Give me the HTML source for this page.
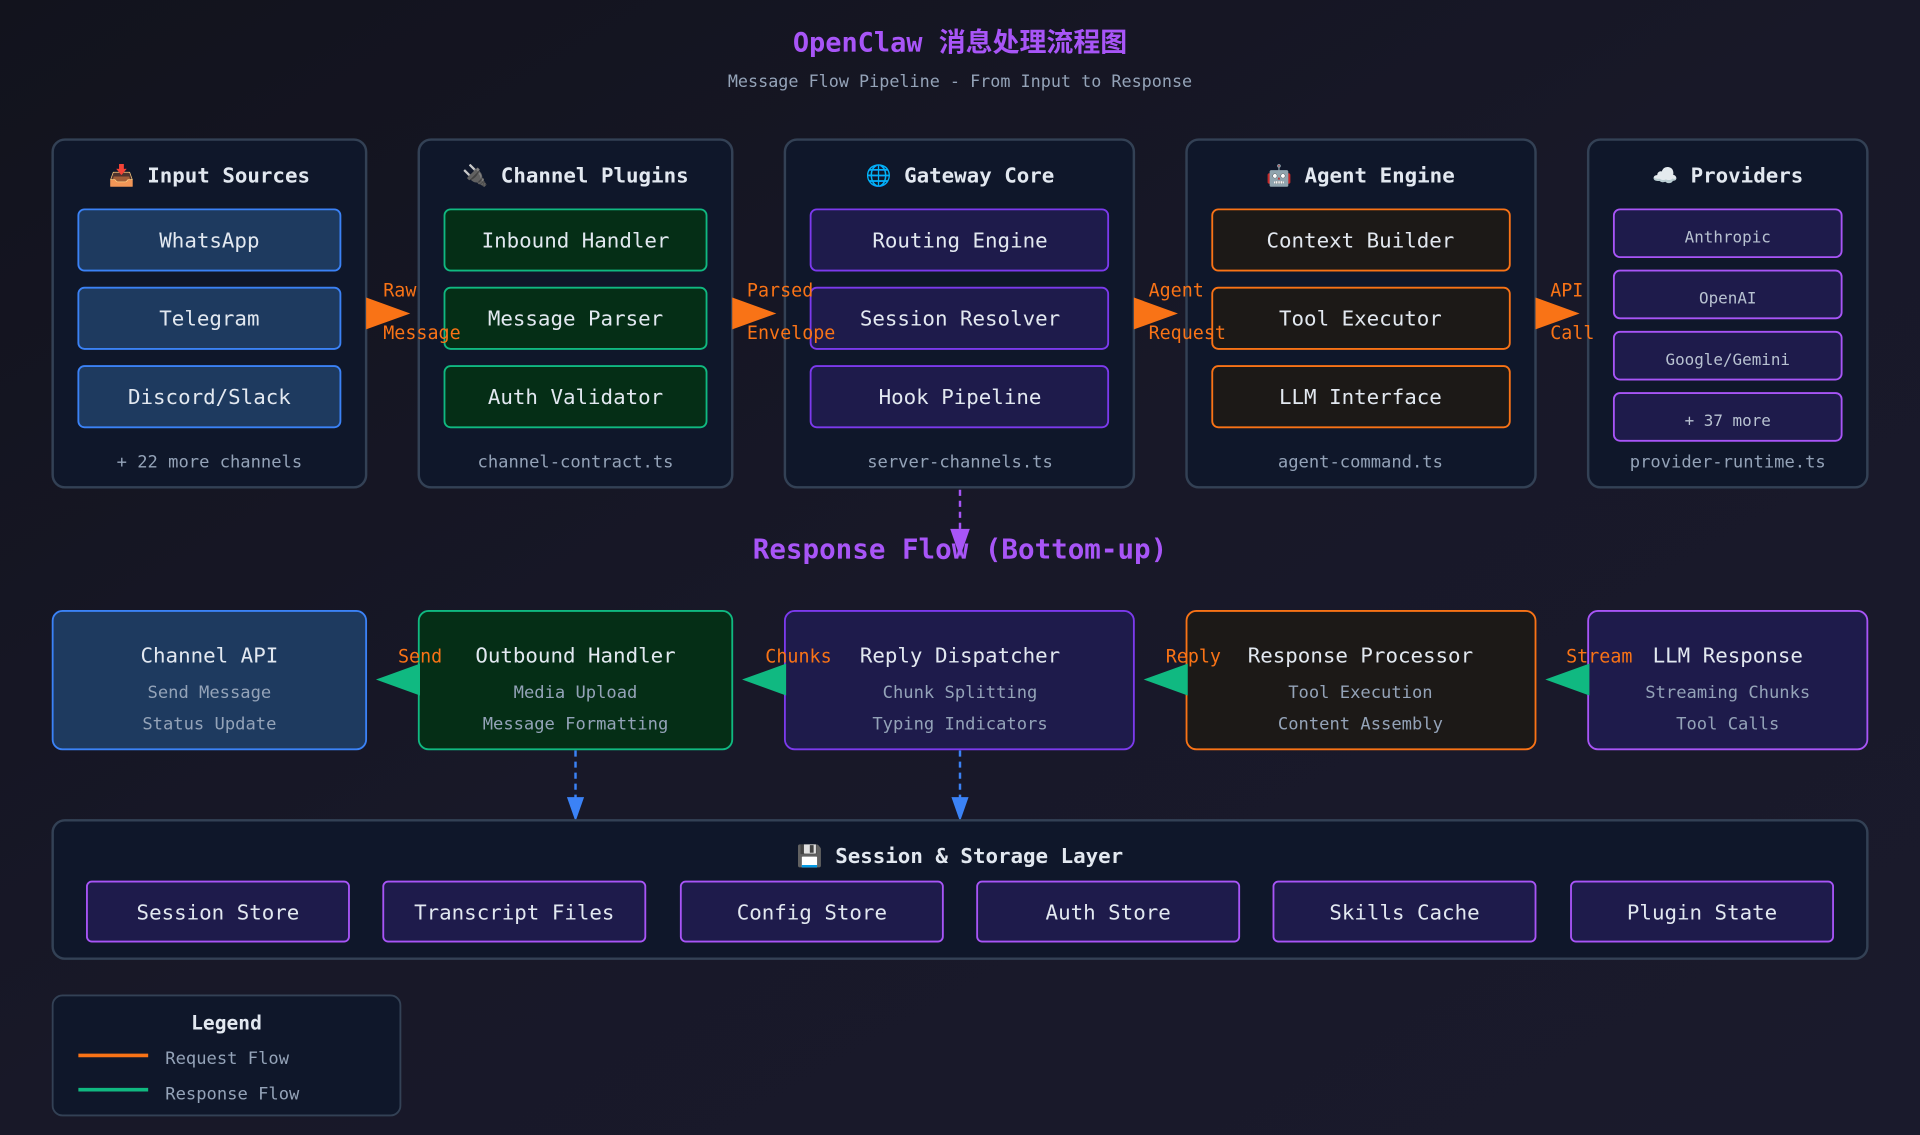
<!DOCTYPE html>
<html><head><meta charset="utf-8"><style>
html,body{margin:0;padding:0;background:#14141f;}
svg{display:block}
text{font-family:"DejaVu Sans Mono","Liberation Mono","Noto Sans CJK SC",monospace;}
</style></head><body>
<svg width="1920" height="1135" viewBox="0 0 1568 927" preserveAspectRatio="none" xmlns="http://www.w3.org/2000/svg">
<defs>
<linearGradient id="bg" x1="0" y1="0" x2="1" y2="1"><stop offset="0" stop-color="#12131d"/><stop offset="0.5" stop-color="#181828"/><stop offset="1" stop-color="#1a1a2c"/></linearGradient>
</defs>
<rect width="1568" height="927" fill="url(#bg)"/>
<text x="784" y="42" text-anchor="middle" font-size="22" font-weight="bold" fill="#a855f7">OpenClaw 消息处理流程图</text>
<text x="784" y="71" text-anchor="middle" font-size="13.7" fill="#94a3b8">Message Flow Pipeline - From Input to Response</text>

<g stroke-width="2">
<rect x="43" y="114" width="256" height="284" rx="10" fill="#0f172a" stroke="#334155"/>
<rect x="342" y="114" width="256" height="284" rx="10" fill="#0f172a" stroke="#334155"/>
<rect x="641" y="114" width="285" height="284" rx="10" fill="#0f172a" stroke="#334155"/>
<rect x="969" y="114" width="285" height="284" rx="10" fill="#0f172a" stroke="#334155"/>
<rect x="1297" y="114" width="228" height="284" rx="10" fill="#0f172a" stroke="#334155"/>
</g>
<g font-size="17" font-weight="bold" fill="#e2e8f0" text-anchor="middle">
<text x="171" y="149">📥 Input Sources</text>
<text x="470" y="149">🔌 Channel Plugins</text>
<text x="784" y="149">🌐 Gateway Core</text>
<text x="1111" y="149">🤖 Agent Engine</text>
<text x="1411" y="149">☁️ Providers</text>
</g>
<g stroke-width="1.5">
<rect x="64" y="171" width="214" height="50" rx="5" fill="#1e3a5f" stroke="#3b82f6"/>
<rect x="64" y="235" width="214" height="50" rx="5" fill="#1e3a5f" stroke="#3b82f6"/>
<rect x="64" y="299" width="214" height="50" rx="5" fill="#1e3a5f" stroke="#3b82f6"/>
<rect x="363" y="171" width="214" height="50" rx="5" fill="#052e16" stroke="#10b981"/>
<rect x="363" y="235" width="214" height="50" rx="5" fill="#052e16" stroke="#10b981"/>
<rect x="363" y="299" width="214" height="50" rx="5" fill="#052e16" stroke="#10b981"/>
<rect x="662" y="171" width="243" height="50" rx="5" fill="#1e1b4b" stroke="#7c3aed"/>
<rect x="662" y="235" width="243" height="50" rx="5" fill="#1e1b4b" stroke="#7c3aed"/>
<rect x="662" y="299" width="243" height="50" rx="5" fill="#1e1b4b" stroke="#7c3aed"/>
<rect x="990" y="171" width="243" height="50" rx="5" fill="#1c1917" stroke="#f97316"/>
<rect x="990" y="235" width="243" height="50" rx="5" fill="#1c1917" stroke="#f97316"/>
<rect x="990" y="299" width="243" height="50" rx="5" fill="#1c1917" stroke="#f97316"/>
<rect x="1318" y="171" width="186" height="39" rx="5" fill="#1e1b4b" stroke="#a855f7"/>
<rect x="1318" y="221" width="186" height="39" rx="5" fill="#1e1b4b" stroke="#a855f7"/>
<rect x="1318" y="271" width="186" height="39" rx="5" fill="#1e1b4b" stroke="#a855f7"/>
<rect x="1318" y="321" width="186" height="39" rx="5" fill="#1e1b4b" stroke="#a855f7"/>
</g>
<g font-size="17" fill="#e2e8f0" text-anchor="middle">
<text x="171" y="202">WhatsApp</text><text x="171" y="266">Telegram</text><text x="171" y="330">Discord/Slack</text>
<text x="470" y="202">Inbound Handler</text><text x="470" y="266">Message Parser</text><text x="470" y="330">Auth Validator</text>
<text x="784" y="202">Routing Engine</text><text x="784" y="266">Session Resolver</text><text x="784" y="330">Hook Pipeline</text>
<text x="1111" y="202">Context Builder</text><text x="1111" y="266">Tool Executor</text><text x="1111" y="330">LLM Interface</text>
</g>
<g font-size="13" fill="#b8c2d1" text-anchor="middle">
<text x="1411" y="198">Anthropic</text><text x="1411" y="248">OpenAI</text><text x="1411" y="298">Google/Gemini</text><text x="1411" y="348">+ 37 more</text>
</g>
<g font-size="14" fill="#94a3b8" text-anchor="middle">
<text x="171" y="382">+ 22 more channels</text><text x="470" y="382">channel-contract.ts</text><text x="784" y="382">server-channels.ts</text><text x="1111" y="382">agent-command.ts</text><text x="1411" y="382">provider-runtime.ts</text>
</g>
<g fill="#f97316">
<polygon points="299,243 335,256 299,269"/><polygon points="598,243 634,256 598,269"/><polygon points="926,243 962,256 926,269"/><polygon points="1254,243 1290,256 1254,269"/>
</g>
<g font-size="15" fill="#f97316">
<text x="313" y="242">Raw</text><text x="313" y="277">Message</text>
<text x="610" y="242">Parsed</text><text x="610" y="277">Envelope</text>
<text x="938" y="242">Agent</text><text x="938" y="277">Request</text>
<text x="1266" y="242">API</text><text x="1266" y="277">Call</text>
</g>
<line x1="784" y1="400" x2="784" y2="440" stroke="#a855f7" stroke-width="2" stroke-dasharray="5,4"/>
<polygon points="776,432 792,432 784,455" fill="#a855f7"/>
<text x="784" y="456" text-anchor="middle" font-size="22.5" font-weight="bold" fill="#a855f7">Response Flow (Bottom-up)</text>

<g stroke-width="1.5">
<rect x="43" y="499" width="256" height="113" rx="8" fill="#1e3a5f" stroke="#3b82f6"/>
<rect x="342" y="499" width="256" height="113" rx="8" fill="#052e16" stroke="#10b981"/>
<rect x="641" y="499" width="285" height="113" rx="8" fill="#1e1b4b" stroke="#7c3aed"/>
<rect x="969" y="499" width="285" height="113" rx="8" fill="#1c1917" stroke="#f97316"/>
<rect x="1297" y="499" width="228" height="113" rx="8" fill="#1e1b4b" stroke="#a855f7"/>
</g>
<g font-size="17" fill="#e2e8f0" text-anchor="middle">
<text x="171" y="541">Channel API</text><text x="470" y="541">Outbound Handler</text><text x="784" y="541">Reply Dispatcher</text><text x="1111" y="541">Response Processor</text><text x="1411" y="541">LLM Response</text>
</g>
<g font-size="14" fill="#94a3b8" text-anchor="middle">
<text x="171" y="570">Send Message</text><text x="171" y="596">Status Update</text>
<text x="470" y="570">Media Upload</text><text x="470" y="596">Message Formatting</text>
<text x="784" y="570">Chunk Splitting</text><text x="784" y="596">Typing Indicators</text>
<text x="1111" y="570">Tool Execution</text><text x="1111" y="596">Content Assembly</text>
<text x="1411" y="570">Streaming Chunks</text><text x="1411" y="596">Tool Calls</text>
</g>
<g fill="#10b981">
<polygon points="343,542 307,555 343,568"/><polygon points="642,542 606,555 642,568"/><polygon points="970,542 934,555 970,568"/><polygon points="1298,542 1262,555 1298,568"/>
</g>
<g font-size="15" fill="#f97316">
<text x="325" y="541">Send</text><text x="625" y="541">Chunks</text><text x="952" y="541">Reply</text><text x="1279" y="541">Stream</text>
</g>
<g stroke="#3b82f6" stroke-width="2" stroke-dasharray="5,4">
<line x1="470" y1="613" x2="470" y2="655"/><line x1="784" y1="613" x2="784" y2="655"/>
</g>
<g fill="#3b82f6"><polygon points="463,651 477,651 470,671"/><polygon points="777,651 791,651 784,671"/></g>

<rect x="43" y="670" width="1482" height="113" rx="10" fill="#0f172a" stroke="#334155" stroke-width="2"/>
<text x="784" y="705" text-anchor="middle" font-size="17" font-weight="bold" fill="#e2e8f0">💾 Session &amp; Storage Layer</text>
<g stroke="#a855f7" stroke-width="1.5" fill="#1e1b4b">
<rect x="71" y="720" width="214" height="49" rx="4"/><rect x="313" y="720" width="214" height="49" rx="4"/><rect x="556" y="720" width="214" height="49" rx="4"/><rect x="798" y="720" width="214" height="49" rx="4"/><rect x="1040" y="720" width="214" height="49" rx="4"/><rect x="1283" y="720" width="214" height="49" rx="4"/>
</g>
<g font-size="17" fill="#e2e8f0" text-anchor="middle">
<text x="178" y="751">Session Store</text><text x="420" y="751">Transcript Files</text><text x="663" y="751">Config Store</text><text x="905" y="751">Auth Store</text><text x="1147" y="751">Skills Cache</text><text x="1390" y="751">Plugin State</text>
</g>

<rect x="43" y="813" width="284" height="98" rx="8" fill="#0f172a" stroke="#334155" stroke-width="1.5"/>
<text x="185" y="841" text-anchor="middle" font-size="16" font-weight="bold" fill="#e2e8f0">Legend</text>
<line x1="64" y1="862" x2="121" y2="862" stroke="#f97316" stroke-width="3"/>
<line x1="64" y1="890" x2="121" y2="890" stroke="#10b981" stroke-width="3"/>
<text x="135" y="869" font-size="14" fill="#94a3b8">Request Flow</text>
<text x="135" y="898" font-size="14" fill="#94a3b8">Response Flow</text>
</svg>
</body></html>
